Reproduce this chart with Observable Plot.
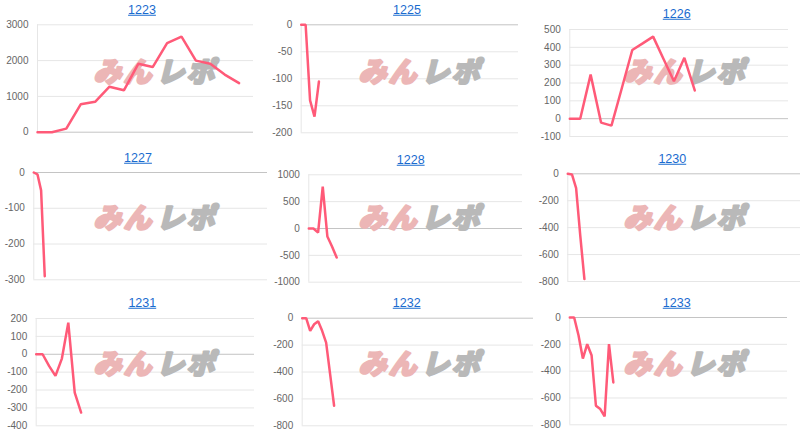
<!DOCTYPE html>
<html>
<head>
<meta charset="utf-8">
<script src="https://cdn.jsdelivr.net/npm/d3@7"></script>
<script src="https://cdn.jsdelivr.net/npm/@observablehq/plot@0.6"></script>
<style>
  html, body { margin: 0; padding: 0; background: #fff; }
  #root { position: relative; width: 800px; height: 438px; overflow: hidden; font-family: "Liberation Sans", Arial, sans-serif; }
  .ttl { position: absolute; transform: translate(-50%, -50%); font-size: 12.5px; color: #1a6bcf; text-decoration: underline; white-space: nowrap; line-height: 1; }
  .pnl { position: absolute; }
</style>
</head>
<body>
<div id="root"></div>
<script>
// ---- data ----
const titles = ["1223", "1225", "1226", "1227", "1228", "1230", "1231", "1232", "1233"];
const values1223 = [0, 0, 100, 780, 850, 1270, 1170, 1910, 1820, 2490, 2670, 2000, 1910, 1610, 1370];
const values1225 = [0, 0, -140, -170, -105];
const values1226 = [0, 0, 247, -22, -39, 172, 385, 422, 460, 335, 210, 341, 158];
const values1227 = [0, -5, -50, -290];
const values1228 = [0, 0, -75, 780, -150, -335, -540];
const values1230 = [0, -5, -106, -460, -782];
const values1231 = [0, 0, -65, -121, -24, 177, -214, -326];
const values1232 = [0, 0, -94, -45, -22, -94, -181, -416, -651];
const values1233 = [0, 0, -132, -306, -199, -281, -658, -683, -738, -199, -484];
const seriesValues = [values1223, values1225, values1226, values1227, values1228, values1230, values1231, values1232, values1233];
// number of x slots (last index) per chart
const slotCounts = [15, 49, 21, 64, 46, 56, 34, 58, 50];
const yDomains = [[0, 3000], [-200, 0], [-100, 500], [-300, 0], [-1000, 1000], [-800, 0], [-400, 200], [-800, 0], [-800, 0]];
const yTickLabels = [
  [0, 1000, 2000, 3000],
  [-200, -150, -100, -50, 0],
  [-100, 0, 100, 200, 300, 400, 500],
  [-300, -200, -100, 0],
  [-1000, -500, 0, 500, 1000],
  [-800, -600, -400, -200, 0],
  [-400, -300, -200, -100, 0, 100, 200],
  [-800, -600, -400, -200, 0],
  [-800, -600, -400, -200, 0]
];
const watermarkLeft = "みん";
const watermarkRight = "レポ";

// ---- layout (pixel geometry of each panel's plot frame) ----
const frames = [
  {left: 37,    right: 253, top: 24.3,  bottom: 131.7, tx: 142,   ty: 10},
  {left: 300.7, right: 518, top: 24.3,  bottom: 132.3, tx: 407,   ty: 10},
  {left: 569.3, right: 788, top: 29,    bottom: 136,   tx: 676.7, ty: 14},
  {left: 33.3,  right: 267, top: 172,   bottom: 279.3, tx: 138,   ty: 158},
  {left: 308.3, right: 522, top: 174.3, bottom: 281.7, tx: 410.7, ty: 160},
  {left: 567.3, right: 800, top: 173.3, bottom: 281,   tx: 672.3, ty: 158.7},
  {left: 35.7,  right: 254, top: 318,   bottom: 425.3, tx: 142.3, ty: 303},
  {left: 301.7, right: 533, top: 317.7, bottom: 425.3, tx: 406.7, ty: 303},
  {left: 569.3, right: 787, top: 317,   bottom: 424.3, tx: 676.7, ty: 302.7}
];

const root = document.getElementById("root");
const wmFont = {fontSize: 28, fontWeight: 900, fontStyle: "italic", fontFamily: "'Noto Sans CJK JP', sans-serif", strokeWidth: 2.2};

titles.forEach((title, k) => {
  const col = k % 3, row = Math.floor(k / 3);
  const f = frames[k];
  const svgLeft = col * 265, svgW = 270;
  const svgTop = row * 146 + 16, svgH = 126;
  const mL = f.left - svgLeft, mR = svgLeft + svgW - f.right;
  const mT = f.top - svgTop, mB = svgTop + svgH - f.bottom;
  const fcx = (f.left + f.right) / 2, fcy = (f.top + f.bottom) / 2;
  const wmX = svgLeft + 155, wmY = row * 146 + 72;
  const ticks = yTickLabels[k];
  const hasZero = ticks.includes(0);

  const chart = Plot.plot({
    width: svgW,
    height: svgH,
    marginLeft: mL, marginRight: mR, marginTop: mT, marginBottom: mB,
    style: {background: "transparent", fontFamily: "'Liberation Sans', Arial, sans-serif", fontSize: "10px", color: "#666", overflow: "visible"},
    x: {domain: [0, slotCounts[k]], axis: null},
    y: {domain: yDomains[k], ticks: ticks, tickSize: 0, tickPadding: 9, label: null, tickFormat: d => String(d)},
    marks: [
      Plot.ruleY(ticks.filter(t => t !== 0), {stroke: "#e6e6e6"}),
      Plot.ruleX([0], {stroke: "#e6e6e6"}),
      hasZero ? Plot.ruleY([0], {stroke: "#c4c4c4"}) : null,
      Plot.text([watermarkLeft], {frameAnchor: "middle", dx: wmX - fcx - 2, dy: wmY - fcy + 1, textAnchor: "end", text: d => d,
        fill: "#ecb6b6", stroke: "#ecb6b6", ...wmFont}),
      Plot.text([watermarkRight], {frameAnchor: "middle", dx: wmX - fcx + 1, dy: wmY - fcy + 1, textAnchor: "start", text: d => d,
        fill: "#b9b9b9", stroke: "#b9b9b9", ...wmFont}),
      Plot.lineY(seriesValues[k], {x: (d, i) => i, y: d => d, stroke: "rgb(255,90,120)", strokeWidth: 2.5, strokeLinejoin: "miter"})
    ]
  });
  d3.select(chart).selectAll("text").filter(function() { return this.textContent === watermarkLeft || this.textContent === watermarkRight; })
    .attr("letter-spacing", "2px");
  chart.classList.add("pnl");
  chart.style.left = svgLeft + "px";
  chart.style.top = svgTop + "px";
  root.appendChild(chart);

  const a = document.createElement("a");
  a.className = "ttl";
  a.href = "#";
  a.textContent = title;
  a.style.left = f.tx + "px";
  a.style.top = f.ty + "px";
  root.appendChild(a);
});
</script>
</body>
</html>
